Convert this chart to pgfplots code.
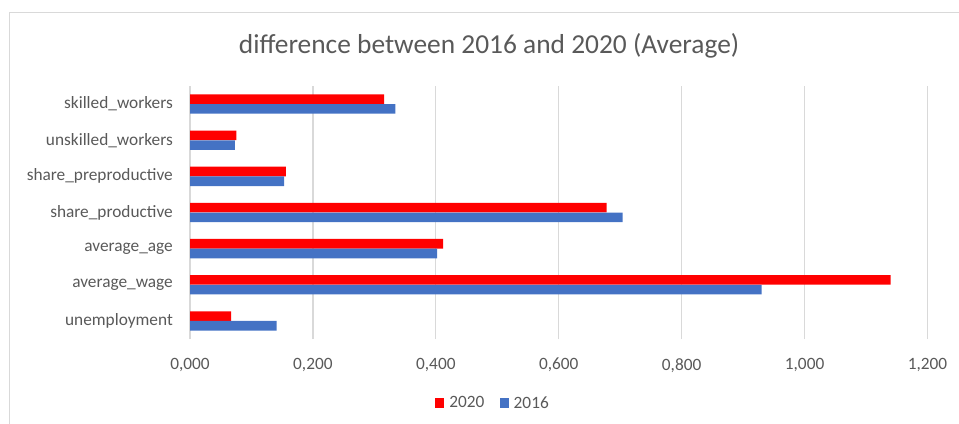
\documentclass[border=0pt]{standalone}
\usepackage{pgfplots}
\pgfplotsset{compat=1.18}
\usepackage{fontspec}
\setmainfont{Carlito}
\definecolor{txt}{HTML}{595959}
\definecolor{gridc}{HTML}{D9D9D9}
\definecolor{c2020}{HTML}{FF0000}
\definecolor{c2016}{HTML}{4472C4}
\begin{document}
\begin{tikzpicture}
\useasboundingbox (0,0) rectangle (959bp,424bp);
\draw[gridc, line width=1.3bp] (9.5bp,0) -- (9.5bp,411.7bp) -- (959bp,411.7bp);
\node[anchor=base, text=txt, font=\fontsize{27.4bp}{30bp}\selectfont] at (489bp,370bp) {difference between 2016 and 2020 (Average)};
\begin{axis}[
  at={(190bp,85bp)}, anchor=south west,
  scale only axis, width=737.5bp, height=253bp,
  xbar, bar width=9.6bp,
  xmin=0, xmax=1.2, ymin=-0.5, ymax=6.5,
  axis lines=left, axis line style={draw=none},
  major tick length=0pt,
  xmajorgrids, grid style={gridc, line width=1.2bp},
  xtick={0,0.2,0.4,0.6,0.8,1.0,1.2},
  xticklabels={{0,000},{0,200},{0,400},{0,600},{0,800},{1,000},{1,200}},
  ytick={0,1,2,3,4,5,6},
  yticklabels={unemployment,average\_wage,average\_age,share\_productive,share\_preproductive,unskilled\_workers,skilled\_workers},
  tick label style={text=txt, font=\fontsize{17.3bp}{20bp}\selectfont, inner sep=0pt},
  xticklabel style={anchor=north, yshift=-19bp},
  yticklabel style={anchor=east, xshift=-17bp},
  legend columns=-1,
  legend style={at={(0.4095,-0.253)}, anchor=center, draw=none, fill=none,
    font=\fontsize{17.3bp}{20bp}\selectfont, text=txt,
    nodes={inner sep=0pt},
    /tikz/every even column/.append style={column sep=15bp},
    /tikz/every odd column/.append style={column sep=5bp}},
  legend image code/.code={\fill[#1] (0bp,-4.8bp) rectangle (9.2bp,4.8bp);},
]
\addplot[fill=c2020, draw=none, bar shift=4.85bp] coordinates {
  (0.067,0) (1.140,1) (0.412,2) (0.678,3) (0.156,4) (0.0755,5) (0.316,6)};
\addplot[fill=c2016, draw=none, bar shift=-4.85bp] coordinates {
  (0.141,0) (0.930,1) (0.402,2) (0.704,3) (0.153,4) (0.073,5) (0.334,6)};
\legend{2020,2016}
\end{axis}
\end{tikzpicture}
\end{document}
